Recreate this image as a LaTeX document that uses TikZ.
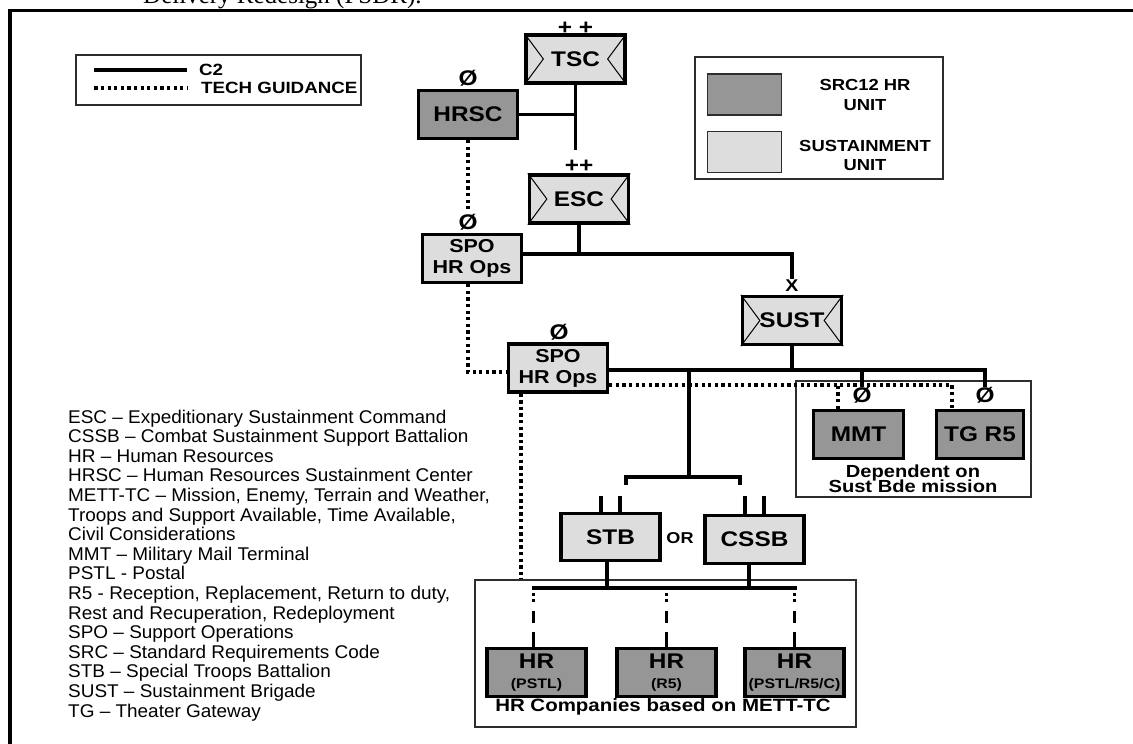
\documentclass[tikz,border=0pt]{standalone}
\usepackage{fontspec}
\setmainfont{Liberation Sans}
\newfontfamily\lblfont[FakeStretch=1.15]{Liberation Sans}
\newfontfamily\listfont[FakeStretch=1.03]{Liberation Sans}
\newfontfamily\seriffont{Liberation Serif}
\newcommand\myfs[2]{\fontsize{#1}{#2}\selectfont}
\definecolor{lightfill}{RGB}{221,221,221}
\definecolor{darkfill}{RGB}{150,150,150}
\definecolor{framegray}{RGB}{45,45,45}
\begin{document}
\begin{tikzpicture}[x=1pt,y=-1pt,
  unitbox/.style={draw=black,line width=3.3pt,inner sep=0pt,minimum width=99pt,minimum height=48pt,align=center,font=\lblfont\bfseries\myfs{21.2}{24}},
  lightbox/.style={unitbox,fill=lightfill},
  darkbox/.style={unitbox,fill=darkfill},
  spofont/.style={font=\lblfont\bfseries\myfs{18.7}{21}},
  hrfont/.style={font=\lblfont\bfseries\myfs{13.8}{19.5}},
  sym/.style={inner sep=0pt,font=\lblfont\bfseries\myfs{21.2}{24}},
  c2line/.style={line width=3.3pt},
  techline/.style={line width=3.3pt,dash pattern=on 3.3pt off 3.3pt},
  hrlink/.style={line width=3.3pt,dash pattern=on 0pt off 5pt on 3pt off 3pt on 3pt off 9pt on 12pt off 9pt on 40pt},
  envline/.style={line width=1pt},
  thinframe/.style={draw=framegray,line width=1.3pt,inner sep=0pt},
  swatch/.style={draw=framegray,line width=1.5pt,inner sep=0pt,minimum width=74pt,minimum height=41pt},
  legtxt/.style={inner sep=0pt,font=\lblfont\bfseries\myfs{16.3}{19}},
  listtxt/.style={inner sep=0pt,font=\listfont\myfs{18.4}{20}},
  captxt/.style={inner sep=0pt,font=\lblfont\bfseries\myfs{17.8}{20}},
]
\useasboundingbox (0,0) rectangle (1133,744);
\clip (0,0) rectangle (1133,744);
\fill[white] (0,0) rectangle (1133,744);

% caption remnant and frame
\node[anchor=base west,inner sep=0pt,font=\seriffont\myfs{25}{28}] (caption) at (143,4) {Delivery Redesign (PSDR).};
\draw[line width=3.3pt] (10,760) -- (10,10.5) -- (1145,10.5);

% containers
\node[thinframe,minimum width=381pt,minimum height=147pt] (HRgroup) at (665.5,653.5) {};
\node[thinframe,minimum width=235pt,minimum height=116pt] (Depgroup) at (913.5,439) {};
\node[captxt,anchor=base] (hrcap) at (663,711) {HR Companies based on METT-TC};
\node[captxt,anchor=base,font=\lblfont\bfseries\myfs{17.5}{20}] (dep1) at (913,477) {Dependent on};
\node[captxt,anchor=base,font=\lblfont\bfseries\myfs{17.5}{20}] (dep2) at (913,492) {Sust Bde mission};

% legend 1
\node[thinframe,minimum width=285pt,minimum height=50pt] (leg1) at (218.5,80) {};
\draw[c2line] ([shift={(19,-10)}]leg1.west) -- ++(93,0);
\draw[techline] ([shift={(19,8)}]leg1.west) -- ++(93,0);
\node[legtxt,anchor=west] (legc2) at (199,70) {C2};
\node[legtxt,anchor=west] (legtg) at (201,88) {TECH GUIDANCE};

% legend 2
\node[thinframe,minimum width=248pt,minimum height=122pt] (leg2) at (819,118) {};
\node[swatch,fill=darkfill] (swdark) at (744.5,94.5) {};
\node[swatch,fill=lightfill] (swlight) at (744.5,152) {};
\node[legtxt,align=center,font=\lblfont\bfseries\myfs{16}{20}] (legsrc) at (865,95) {SRC12 HR\\UNIT};
\node[legtxt,align=center,font=\lblfont\bfseries\myfs{16}{19}] (legsus) at (865,155.5) {SUSTAINMENT\\UNIT};

% abbreviations
\foreach \t [count=\i from 0] in {
  {ESC – Expeditionary Sustainment Command},
  {CSSB – Combat Sustainment Support Battalion},
  {HR – Human Resources},
  {HRSC – Human Resources Sustainment Center},
  {METT-TC – Mission, Enemy, Terrain and Weather,},
  {Troops and Support Available, Time Available,},
  {Civil Considerations},
  {MMT – Military Mail Terminal},
  {PSTL - Postal},
  {R5 - Reception, Replacement, Return to duty,},
  {Rest and Recuperation, Redeployment},
  {SPO – Support Operations},
  {SRC – Standard Requirements Code},
  {STB – Special Troops Battalion},
  {SUST – Sustainment Brigade},
  {TG – Theater Gateway}}
  \node[listtxt,anchor=base west] (ab\i) at (68,{423+19.6*\i}) {\t};

% unit boxes
\node[lightbox] (TSC) at (575.5,59) {TSC};
\node[darkbox] (HRSC) at (468,114.5) {HRSC};
\node[lightbox] (ESC) at (579,199) {ESC};
\node[lightbox,spofont] (SPO1) at (472,258.5) {SPO\\HR Ops};
\node[lightbox] (SUST) at (792,320.5) {SUST};
\node[lightbox,spofont] (SPO2) at (558,368) {SPO\\HR Ops};
\node[darkbox,minimum width=90pt] (MMT) at (858.5,434.5) {MMT};
\node[darkbox,minimum width=87pt] (TG) at (980,434.5) {TG R5};
\node[lightbox,minimum height=47pt] (STB) at (610.5,537) {STB};
\node[lightbox] (CSSB) at (754.5,539.5) {CSSB};
\node[darkbox,hrfont] (HR1) at (536.5,672.5) {{\myfs{21.2}{19.5}HR}\\(PSTL)};
\node[darkbox,hrfont] (HR2) at (666.5,672.5) {{\myfs{21.2}{19.5}HR}\\(R5)};
\node[darkbox,hrfont] (HR3) at (794.5,672.5) {{\myfs{21.2}{19.5}HR}\\(PSTL/R5/C)};
\node[inner sep=0pt,font=\lblfont\bfseries\myfs{15.7}{18}] (ortxt) at (680,538) {OR};

% sustainment envelope marks
\foreach \n in {TSC,ESC,SUST}{
  \draw[envline] (\n.north west) -- ([xshift=19pt]\n.west) -- (\n.south west)
                 (\n.north east) -- ([xshift=-19pt]\n.east) -- (\n.south east);
}

% echelon symbols
\node[sym,anchor=south] (TSCsym) at ([yshift=-1pt]TSC.north) {+ +};
\node[sym,anchor=south] (ESCsym) at ([yshift=1pt]ESC.north) {++};
\node[sym,anchor=south] (HRSCsym) at ([yshift=2pt]HRSC.north) {Ø};
\node[sym,anchor=south] (SPO1sym) at ([xshift=-4pt,yshift=2pt]SPO1.north) {Ø};
\node[sym,anchor=south] (SPO2sym) at ([xshift=1pt,yshift=2pt]SPO2.north) {Ø};
\node[sym,anchor=south] (MMTsym) at ([xshift=3.5pt,yshift=5pt]MMT.north) {Ø};
\node[sym,anchor=south] (TGsym) at ([xshift=5pt,yshift=5pt]TG.north) {Ø};
\node[sym,anchor=south,font=\lblfont\bfseries\myfs{17}{20}] (SUSTsym) at ([yshift=3.5pt]SUST.north) {X};

% C2 connectors
\coordinate (tscend) at (576,150);
\draw[c2line] (TSC.south) -- (TSC.south |- tscend);
\draw[c2line] (HRSC.east) -- (HRSC.east -| TSC.south);
\coordinate (escbus) at ([yshift=4.5pt]SPO1.east);
\draw[c2line] (ESC.south) -- (ESC.south |- escbus);
\draw[c2line] (escbus) -| (SUSTsym.north);
\coordinate (susbus) at ([yshift=-2pt]SPO2.east);
\draw[c2line] (susbus) -| (TGsym.north);
\draw[c2line] (SUST.south) -- (SUST.south |- susbus);
\draw[c2line] (MMTsym.north) -- (MMTsym.north |- susbus);
\coordinate (brk) at (689,477);
\coordinate (brkL) at (626,485);
\coordinate (brkR) at (740,485);
\draw[c2line] (brk |- susbus) -- (brk);
\draw[c2line] (brkL) |- (brk) -| (brkR);
\draw[c2line] ([xshift=-9.5pt]STB.north) -- ++(0,-16);
\draw[c2line] ([xshift=9.5pt]STB.north) -- ++(0,-16);
\draw[c2line] ([xshift=-9.5pt]CSSB.north) -- ++(0,-18);
\draw[c2line] ([xshift=9.5pt]CSSB.north) -- ++(0,-18);
\coordinate (hbusL) at (532,588);
\coordinate (hbusR) at (796.5,588);
\draw[c2line] (hbusL) -- (hbusR);
\draw[c2line] ([xshift=-3.5pt]STB.south) -- ([xshift=-3.5pt]STB.south |- hbusL);
\draw[c2line] ([xshift=-5.5pt]CSSB.south) -- ([xshift=-5.5pt]CSSB.south |- hbusL);
\draw[hrlink] ([xshift=-3pt]HR1.north |- hbusL) -- ([xshift=-3pt]HR1.north);
\draw[hrlink] (HR2.north |- hbusL) -- (HR2.north);
\draw[hrlink] (HR3.north |- hbusL) -- (HR3.north);

% technical guidance
\draw[techline,shorten >=5pt] (HRSC.south) -- (HRSC.south |- SPO1sym.north);
\draw[techline] ([xshift=-4pt]SPO1.south) |- ([yshift=-4pt]SPO2.west);
\coordinate (techpt) at ([yshift=-17pt]SPO2.east);
\draw[techline] (techpt) -| ([xshift=-28pt]TG.north);
\draw[techline] ([xshift=-20.5pt]MMT.north) -- ([xshift=-20.5pt]MMT.north |- techpt);
\draw[techline] ([xshift=-37pt]SPO2.south) -- ([xshift=-37pt]SPO2.south |- HRgroup.north);
\end{tikzpicture}
\end{document}
